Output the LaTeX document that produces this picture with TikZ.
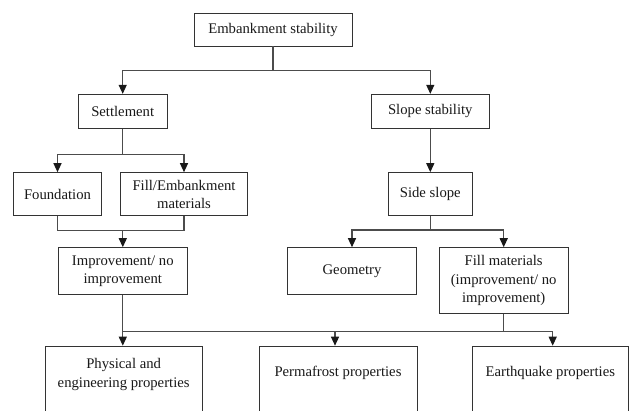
\documentclass[tikz,border=0pt]{standalone}
\usepackage{fontspec}
\setmainfont{Liberation Serif}
\usetikzlibrary{arrows.meta}
\begin{document}
\begin{tikzpicture}[x=1pt,y=-1pt,
  font=\fontsize{14.7}{18.5}\selectfont,
  box/.style={draw=black!80, line width=0.9pt, rectangle, inner sep=0pt, align=center, text=black!90},
  lbl/.style={align=center, inner sep=0pt, text=black!90},
  conn/.style={draw=black!70, line width=1.2pt},
  arr/.style={conn, -{Triangle[length=9pt,width=8pt,color=black!90]}}]
\useasboundingbox (0,0) rectangle (629,411);
\clip (0,0) rectangle (629,411);
\fill[white] (0,0) rectangle (629,411);

% nodes
\node[box, minimum width=158pt, minimum height=33pt] (top) at (273,29.5) {Embankment stability};
\node[box, minimum width=89.3pt, minimum height=34pt] (settle) at (122.7,111.3) {Settlement};
\node[box, minimum width=118.4pt, minimum height=34pt] (slope) at (430.3,111.3) {Slope stability};
\node[box, minimum width=88.3pt, minimum height=43.3pt] (found) at (57.5,194.3) {Foundation};
\node[box, minimum width=127.3pt, minimum height=43.3pt] (fillemb) at (184,194.3) {Fill/Embankment\\materials};
\node[box, minimum width=84pt, minimum height=43.3pt] (side) at (430.3,194.3) {Side slope};
\node[box, minimum width=129pt, minimum height=47.3pt] (improv) at (122.8,271.3) {Improvement/ no\\improvement};
\node[box, minimum width=129.4pt, minimum height=47.3pt] (geom) at (352,271.3) {Geometry};
\node[box, minimum width=129.3pt, minimum height=65.6pt] (fillmat) at (503.7,280.5) {Fill materials\\(improvement/ no\\improvement)};

\node[box, anchor=north west, minimum width=157.3pt, minimum height=100pt] (phys) at (45,345.7) {};
\node[box, anchor=north west, minimum width=157.4pt, minimum height=100pt] (perma) at (259.3,345.7) {};
\node[box, anchor=north west, minimum width=156pt, minimum height=100pt] (quake) at (472.3,345.7) {};
\node[lbl] (physt) at (123.65,374.5) {Physical and\\engineering properties};
\node[lbl] (permat) at (338,373) {Permafrost properties};
\node[lbl] (quaket) at (550.3,373) {Earthquake properties};

% junction coordinates
\coordinate (j1) at (273,70.3);
\coordinate (j2) at (122.7,154.3);
\coordinate (j3) at (122.8,230.7);
\coordinate (j4) at (430.3,230);
\coordinate (busL) at (122.8,331.7);
\coordinate (busR) at (552.7,331.7);
\coordinate (busP) at (335,331.7);

% connectors
\draw[conn] (top.south) -- (j1);
\draw[arr] (j1) -| (settle.north);
\draw[arr] (j1) -| (slope.north);

\draw[conn] (settle.south) -- (j2);
\draw[arr] (j2) -| (found.north);
\draw[arr] (j2) -| (fillemb.north);

\draw[conn] (found.south) |- (j3) -| (fillemb.south);
\draw[arr] (j3) -- (improv.north);

\draw[arr] (slope.south) -- (side.north);
\draw[conn] (side.south) -- (j4);
\draw[arr] (j4) -| (geom.north);
\draw[arr] (j4) -| (fillmat.north);

\draw[arr] (improv.south) -- (improv.south |- phys.north);
\draw[conn] (busL) -- (busR);
\draw[arr] (busP) -- (busP |- perma.north);
\draw[arr] (busR) -- (busR |- quake.north);
\draw[conn] (fillmat.south) -- (fillmat.south |- busL);
\end{tikzpicture}
\end{document}
